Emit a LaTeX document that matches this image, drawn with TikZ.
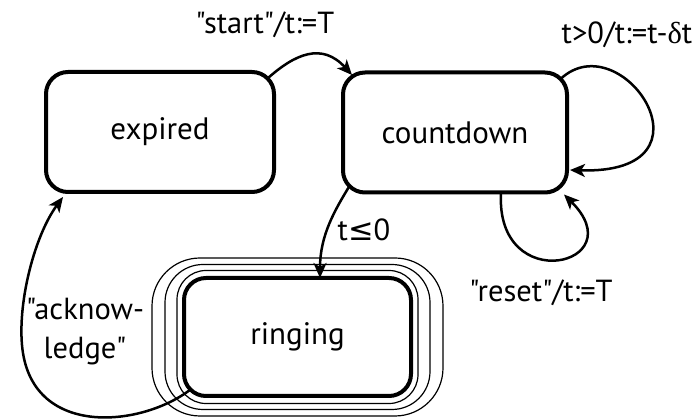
\documentclass[tikz,border=0pt]{standalone}
\usepackage{fontspec}
\setmainfont{PT Sans}[Ligatures=TeXOff]
\newfontfamily\symfont{DejaVu Sans}
\newfontfamily\grfont{Liberation Serif}
\usetikzlibrary{arrows.meta}
\begin{document}
\begin{tikzpicture}[x=1pt,y=1pt,
  state/.style={draw, line width=4pt, rounded corners=22pt, outer sep=0pt, inner sep=0pt,
    font=\fontsize{31}{36}\selectfont},
  ring/.style={line width=1.2pt},
  trans/.style={line width=2.5pt, -{Stealth[length=15pt,width=13pt,inset=4pt]}},
  lbl/.style={inner sep=0pt, font=\fontsize{30.5}{39}\selectfont, align=center}]
\useasboundingbox (0,0) rectangle (699,420);
\node[state, minimum width=228pt, minimum height=120pt] (e) at (160,288) {expired};
\node[state, minimum width=224pt, minimum height=120pt] (c) at (455,287.5) {countdown};
\node[state, minimum width=227pt, minimum height=118pt] (r) at (297.5,83) {ringing};
% final-state rings
\draw[ring, rounded corners=29pt] ([shift={(-7,-7.5)}]r.south west) rectangle ([shift={(7,7.5)}]r.north east);
\draw[ring, rounded corners=38pt] ([shift={(-19,-13.5)}]r.south west) rectangle ([shift={(19,13.5)}]r.north east);
\draw[ring, rounded corners=48pt] ([shift={(-32,-20)}]r.south west) rectangle ([shift={(32,20)}]r.north east);
% transitions
\draw[trans] ([shift={(-6.4,-6.4)}]e.north east) .. controls (295,366) and (322,378) .. ([shift={(9,-2.5)}]c.north west);
\draw[trans] ([shift={(6.4,6.4)}]c.south west) .. controls (335,210) and (320,185) .. ([xshift=22.5pt]r.north);
\draw[trans] ([shift={(-6.4,-6.4)}]c.north east) .. controls (622,398) and (724,245) .. ([shift={(3,-37.5)}]c.east);
\draw[trans] ([xshift=46pt]c.south) .. controls (495,122) and (635,155) .. ([shift={(-3,-2)}]c.south east);
\draw[trans] ([shift={(6.4,6.4)}]r.south west) .. controls (140,-8) and (30,-18) .. (22,75) .. controls (18,120) and (35,185) .. ([shift={(17,-5)}]e.south west);
% labels
\node[lbl] (l1) at (265,395) {"start"/t:=T};
\node[lbl] (l2) at (627,385) {t>0/t:=t-{\grfont δ}t};
\node[lbl] (l3) at (364,190) {t{\symfont ≤}0};
\node[lbl] (l4) at (541,127) {"reset"/t:=T};
\node[lbl] (l5) at (85,88) {"acknow-\\ledge"};
\end{tikzpicture}
\end{document}
